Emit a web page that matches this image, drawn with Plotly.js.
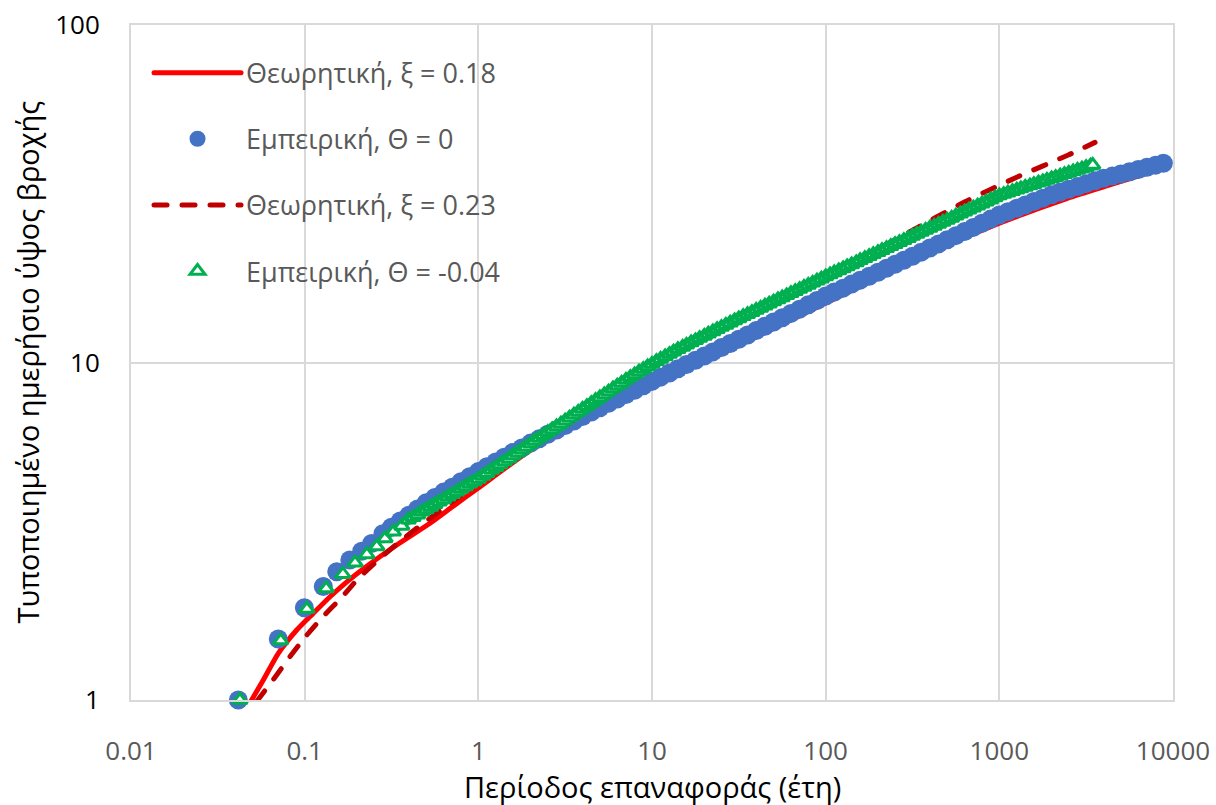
<!DOCTYPE html>
<html>
<head>
<meta charset="utf-8">
<script src="https://cdn.plot.ly/plotly-3.0.1.min.js"></script>
<style>
html, body { margin: 0; padding: 0; background: #ffffff; }
#chart { width: 1216px; height: 805px; }
.scatterlayer path.js-line, .legend path.js-line { stroke-linecap: round; }
</style>
</head>
<body>
<div id="chart"></div>
<script>
// Axis ticks
const periodTicks = [0.01, 0.1, 1, 10, 100, 1000, 10000];
const periodTickLabels = ['0.01', '0.1', '1', '10', '100', '1000', '10000'];
const depthTicks = [1, 10, 100];
const depthTickLabels = ['1', '10', '100'];

// Series names
const nameTheory018 = 'Θεωρητική, ξ = 0.18';
const nameEmp0 = 'Εμπειρική, Θ = 0';
const nameTheory023 = 'Θεωρητική, ξ = 0.23';
const nameEmpNeg = 'Εμπειρική, Θ = -0.04';

// Theoretical curve, ξ = 0.18
const theory018Period = [0.0484, 0.0578, 0.0705, 0.090, 0.112, 0.140, 0.175, 0.218, 0.339, 0.527, 0.72,
  1.0, 2.0, 3.0, 10, 30, 100, 417, 1009, 2443, 8800];
const theory018Depth = [0.98, 1.146, 1.375, 1.612, 1.806, 2.023, 2.24, 2.45, 2.88, 3.34, 3.76,
  4.25, 5.50, 6.18, 8.55, 11.1, 15.0, 21.3, 25.9, 30.6, 37.6];

// Theoretical curve, ξ = 0.23
const theory023Period = [0.0529, 0.0675, 0.0823, 0.1018, 0.1263, 0.1633, 0.2036, 0.2715, 0.362, 0.482, 0.6285,
  1.0, 3.0, 10, 30, 100, 300, 634, 883, 1259, 2495, 3556];
const theory023Depth = [0.99, 1.168, 1.344, 1.547, 1.758, 2.015, 2.29, 2.63, 2.98, 3.34, 3.70,
  4.41, 6.38, 9.7, 13.0, 17.8, 24.3, 29.95, 32.5, 35.4, 41.2, 44.9];

// Empirical points, Θ = 0
const emp0Period = [0.0415, 0.0705, 0.0996, 0.128, 0.153, 0.182, 0.213, 0.243,
  0.282, 0.316, 0.355, 0.398, 0.447, 0.501, 0.562, 0.631, 0.708, 0.794, 0.891,
  1.00, 1.12, 1.26, 1.41, 1.58, 1.78, 2.00, 2.24, 2.51, 2.82, 3.16, 3.55, 3.98, 4.47, 5.01, 5.62, 6.31, 7.08, 7.94, 8.91,
  10.0, 11.2, 12.6, 14.1, 15.8, 17.8, 20.0, 22.4, 25.1, 28.2, 31.6, 35.5, 39.8, 44.7, 50.1, 56.2, 63.1, 70.8, 79.4, 89.1,
  100, 112, 126, 141, 158, 178, 200, 224, 251, 282, 316, 355, 398, 447, 501, 562, 631, 708, 794, 891,
  1000, 1120, 1260, 1410, 1580, 1780, 2000, 2240, 2510, 2820, 3160, 3550, 3980, 4470, 5010, 5620, 6310, 7080, 7940,
  8800];
const emp0Depth = [1.00, 1.516, 1.877, 2.17, 2.40, 2.60, 2.76, 2.91,
  3.11, 3.25, 3.39, 3.53, 3.68, 3.84, 3.98, 4.13, 4.27, 4.43, 4.59,
  4.75, 4.91, 5.07, 5.24, 5.41, 5.58, 5.77, 5.94, 6.13, 6.31, 6.51, 6.71, 6.92, 7.13, 7.34, 7.57, 7.80, 8.04, 8.28, 8.53,
  8.79, 9.05, 9.31, 9.58, 9.86, 10.15, 10.45, 10.75, 11.07, 11.39, 11.72, 12.07, 12.43, 12.80, 13.18, 13.57, 13.98, 14.39, 14.83, 15.27,
  15.74, 16.18, 16.61, 17.07, 17.54, 18.02, 18.51, 19.02, 19.54, 20.08, 20.64, 21.23, 21.83, 22.46, 23.10, 23.76, 24.44, 25.14, 25.86, 26.60,
  27.35, 27.99, 28.64, 29.31, 29.99, 30.69, 31.40, 32.00, 32.62, 33.24, 33.88, 34.54, 35.14, 35.67, 36.21, 36.76, 37.31, 37.87, 38.44,
  38.95];

// Empirical points, Θ = -0.04
const empNegPeriod = [0.0424, 0.0728, 0.103, 0.133, 0.166, 0.195, 0.228, 0.260, 0.290, 0.324, 0.362, 0.395, 0.421,
  0.447, 0.473, 0.501, 0.531, 0.562, 0.596, 0.631, 0.668, 0.708, 0.750, 0.794, 0.841, 0.891, 0.944,
  1.00, 1.06, 1.12, 1.19, 1.26, 1.33, 1.41, 1.50, 1.58, 1.68, 1.78, 1.88, 2.00, 2.11, 2.24, 2.37, 2.51, 2.66, 2.82, 2.99,
  3.16, 3.35, 3.55, 3.76, 3.98, 4.22, 4.47, 4.73, 5.01, 5.31, 5.62, 5.96, 6.31, 6.68, 7.08, 7.50, 7.94, 8.41, 8.91, 9.44,
  10.0, 10.6, 11.2, 11.9, 12.6, 13.3, 14.1, 15.0, 15.8, 16.8, 17.8, 18.8, 20.0, 21.1, 22.4, 23.7, 25.1, 26.6, 28.2, 29.9,
  31.6, 33.5, 35.5, 37.6, 39.8, 42.2, 44.7, 47.3, 50.1, 53.1, 56.2, 59.6, 63.1, 66.8, 70.8, 75.0, 79.4, 84.1, 89.1, 94.4,
  100, 106, 112, 119, 126, 133, 141, 150, 158, 168, 178, 188, 200, 211, 224, 237, 251, 266, 282, 299,
  316, 335, 355, 376, 398, 422, 447, 473, 501, 531, 562, 596, 631, 668, 708, 750, 794, 841, 891, 944,
  1000, 1060, 1120, 1190, 1260, 1330, 1410, 1500, 1580, 1680, 1780, 1880, 2000, 2110, 2240, 2370, 2510, 2660, 2820, 2990,
  3160, 3350, 3450];
const empNegDepth = [1.00, 1.50, 1.86, 2.14, 2.36, 2.55, 2.70, 2.85, 3.01, 3.15, 3.28, 3.42, 3.48,
  3.54, 3.61, 3.67, 3.73, 3.80, 3.87, 3.93, 4.00, 4.07, 4.14, 4.22, 4.29, 4.37, 4.44,
  4.52, 4.61, 4.70, 4.80, 4.89, 4.99, 5.09, 5.19, 5.30, 5.40, 5.51, 5.62, 5.74, 5.85, 5.97, 6.09, 6.21, 6.33, 6.46, 6.59,
  6.72, 6.86, 7.00, 7.14, 7.28, 7.42, 7.57, 7.73, 7.88, 8.04, 8.20, 8.37, 8.53, 8.70, 8.87, 9.04, 9.21, 9.39, 9.56, 9.73,
  9.90, 10.08, 10.25, 10.42, 10.59, 10.77, 10.94, 11.11, 11.28, 11.46, 11.63, 11.81, 11.98, 12.17, 12.35, 12.54, 12.73, 12.92, 13.12, 13.32,
  13.51, 13.71, 13.90, 14.10, 14.31, 14.51, 14.72, 14.93, 15.15, 15.37, 15.58, 15.81, 16.04, 16.27, 16.50, 16.74, 16.98, 17.22, 17.47, 17.72,
  17.98, 18.23, 18.48, 18.74, 19.00, 19.26, 19.53, 19.80, 20.08, 20.36, 20.64, 20.93, 21.21, 21.51, 21.81, 22.11, 22.42, 22.73, 23.04, 23.36,
  23.69, 24.02, 24.35, 24.69, 25.03, 25.38, 25.73, 26.09, 26.46, 26.82, 27.20, 27.58, 27.96, 28.35, 28.74, 29.14, 29.55, 29.96, 30.37, 30.80,
  31.23, 31.55, 31.86, 32.17, 32.48, 32.79, 33.11, 33.43, 33.76, 34.09, 34.41, 34.75, 35.08, 35.42, 35.77, 36.11, 36.46, 36.82, 37.18, 37.53,
  37.90, 38.27, 38.46];

const FONT = '"Open Sans", "Noto Sans", sans-serif';
const GRID = '#d9d9d9';

const traces = [
  {
    x: theory018Period, y: theory018Depth, name: nameTheory018, legendgroup: 'a',
    type: 'scatter', mode: 'lines',
    line: { color: '#FF0000', width: 5, shape: 'spline', smoothing: 0.6 }
  },
  {
    x: emp0Period, y: emp0Depth, name: nameEmp0, legendgroup: 'b',
    type: 'scatter', mode: 'markers', cliponaxis: false,
    marker: { symbol: 'circle', size: 19, color: '#4472C4', line: { width: 0 } }
  },
  {
    x: theory023Period, y: theory023Depth, name: nameTheory023, legendgroup: 'c',
    type: 'scatter', mode: 'lines',
    line: { color: '#C00000', width: 5, dash: '13px,15px', shape: 'spline', smoothing: 0.6 }
  },
  {
    x: empNegPeriod, y: empNegDepth, name: nameEmpNeg, legendgroup: 'd',
    type: 'scatter', mode: 'markers', cliponaxis: false,
    marker: { symbol: 'triangle-up', size: 13, color: '#FFFFFF', line: { color: '#00B050', width: 3 } }
  }
];

const layout = {
  width: 1216, height: 805,
  margin: { l: 131, r: 43, t: 25, b: 105, pad: 0 },
  paper_bgcolor: '#ffffff', plot_bgcolor: '#ffffff',
  font: { family: FONT, color: '#595959' },
  showlegend: true,
  legend: {
    x: 0.0173, xanchor: 'left', y: 0.965, yanchor: 'top',
    bgcolor: 'rgba(0,0,0,0)', borderwidth: 0,
    font: { family: FONT, size: 27, color: '#595959' },
    itemwidth: 87, tracegroupgap: 28
  },
  xaxis: {
    type: 'log', range: [-2, 4],
    tickmode: 'array', tickvals: periodTicks, ticktext: periodTickLabels,
    showgrid: true, gridcolor: GRID, gridwidth: 2,
    showline: true, linecolor: GRID, linewidth: 2, mirror: true,
    zeroline: false, ticks: '', ticklabelstandoff: 27,
    tickfont: { family: FONT, size: 26, color: '#595959' }
  },
  yaxis: {
    type: 'log', range: [0, 2],
    tickmode: 'array', tickvals: depthTicks, ticktext: depthTickLabels,
    showgrid: true, gridcolor: GRID, gridwidth: 2,
    showline: true, linecolor: GRID, linewidth: 2, mirror: true,
    zeroline: false, ticks: '', ticklabelstandoff: 24,
    tickfont: { family: FONT, size: 26, color: '#000000' }
  },
  annotations: [
    {
      text: 'Περίοδος επαναφοράς (έτη)', showarrow: false,
      xref: 'paper', yref: 'paper', x: 0.5, y: 0, xanchor: 'center', yanchor: 'middle', yshift: -86,
      font: { family: FONT, size: 29, color: '#000000' }
    },
    {
      text: 'Τυποποιημένο ημερήσιο ύψος βροχής', showarrow: false, textangle: -90,
      xref: 'paper', yref: 'paper', x: 0, y: 0.5, xanchor: 'center', yanchor: 'middle', xshift: -104,
      font: { family: FONT, size: 29, color: '#000000' }
    }
  ]
};

Plotly.newPlot('chart', traces, layout, { displayModeBar: false, staticPlot: true });
</script>
</body>
</html>
